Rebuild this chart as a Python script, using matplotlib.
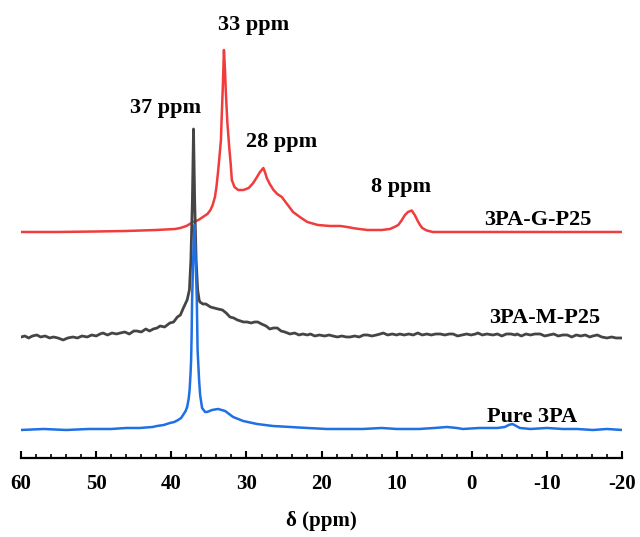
import matplotlib
matplotlib.use('Agg')
import matplotlib.pyplot as plt
from matplotlib.ticker import MultipleLocator

# data: chemical shift (ppm) and intensity (a.u.)
red_ppm = [60, 55, 50, 46, 42, 39.5, 38.8, 38, 37.1, 36.4, 35.8, 35.2, 34.8, 34.5, 34.2, 34.0,
           33.8, 33.6, 33.4, 33.3, 33.15, 33.0, 32.85, 32.75, 32.55, 32.3, 32.1, 31.95, 31.6,
           31.1, 30.4, 29.7, 29.1, 28.6, 28.2, 27.75, 27.5, 27.3, 26.9, 26.4, 25.9, 25.3, 24.5,
           23.8, 22.9, 21.9, 20.5, 18.9, 17.5, 16.6, 15.5, 13.9, 12, 10.9, 10.3, 9.8, 9.4, 8.9,
           8.5, 8.0, 7.6, 7.2, 6.9, 6.6, 6.0, 5.2, 0, -10, -20]
red_int = [0, 0, 0.5, 1, 2, 3, 4, 6, 10, 12, 15, 18, 22, 27, 35, 45,
           59, 75, 92, 115, 145, 182, 160, 140, 110, 85, 68, 52, 45,
           42, 42, 44, 49, 55, 60, 64, 59, 54, 48, 42, 38, 35, 27,
           20, 15, 10, 7, 6, 6, 5, 3.5, 2, 2, 3, 5, 7, 11, 17,
           20, 21.5, 17, 11, 7, 4, 1.5, 0, 0, 0, 0]

gray_ppm = [60.0, 59.5, 59.0, 58.5, 57.9, 57.4, 56.8, 56.2, 55.7, 55.1, 54.4, 53.8, 53.1, 52.5,
            51.9, 51.2, 50.6, 50.0, 49.5, 49.1, 48.5, 47.9, 47.3, 46.8, 46.2, 45.6, 45.0, 44.6,
            44.0, 43.4, 42.9, 42.4, 41.9, 41.5, 40.9, 40.2, 39.7, 39.2, 38.8, 38.4, 37.9, 37.6,
            37.4, 37.2, 37.05, 36.9, 36.7, 36.5, 36.3, 36.2, 35.8, 35.4, 34.8, 34.3, 33.8, 33.2,
            32.7, 32.2, 31.7, 31.2, 30.8, 30.4, 29.9, 29.4, 28.9, 28.5, 28.0, 27.4, 26.9, 26.4,
            25.9, 25.4, 24.9, 24.2, 23.6, 23.0, 22.5, 21.9, 21.5, 20.9, 20.3, 19.6, 19.0, 18.5,
            17.9, 17.3, 16.7, 16.2, 15.6, 15.0, 14.4, 13.9, 13.3, 12.7, 12.2, 11.8, 11.2, 10.6,
            10.0, 9.6, 9.0, 8.4, 7.8, 7.2, 6.6, 6.0, 5.4, 4.8, 4.2, 3.6, 3.0, 2.5, 1.9, 1.3, 0.7,
            0.1, -0.5, -0.8, -1.4, -2.0, -2.8, -3.4, -4.0, -4.6, -5.2, -5.8, -6.0, -6.6, -7.2,
            -7.8, -8.4, -9.1, -9.7, -10.3, -10.9, -11.5, -12.1, -12.7, -13.3, -13.9, -14.5,
            -15.1, -15.7, -16.1, -16.7, -17.3, -18.0, -18.6, -19.2, -20.0]
gray_int = [0, 1, -1, 1, 2, 0, 1, -1, 0, -1, -3, -1, 0, -1,
            1, 0, 2, 1, 3, 4, 2, 4, 3, 4, 5, 3, 6, 6,
            5, 8, 6, 8, 9, 11, 10, 14, 15, 20, 22, 29, 37, 47,
            77, 137, 208, 137, 77, 47, 37, 35, 33, 33, 30, 29, 28, 27,
            24, 20, 19, 17, 16, 15, 15, 14, 15, 15, 13, 11, 8, 9,
            9, 6, 5, 3, 4, 2, 3, 2, 3, 1, 2, 1, 2, 1,
            0, 1, 0, 0, 1, 0, 2, 2, 1, 2, 3, 4, 2, 3,
            2, 3, 2, 3, 2, 4, 2, 3, 2, 3, 3, 2, 3, 3, 1, 2, 3,
            2, 3, 4, 2, 3, 2, 3, 1, 3, 3, 2, 3, 1, 3,
            2, 3, 3, 1, 2, 3, 1, 2, 2, 0, 2, 1,
            2, 0, 1, 2, 0, -1, 0, -1, -1]

blue_ppm = [60, 57, 54, 51, 48, 46, 44.2, 42.5, 41.9, 41.0, 40.2, 39.6, 39.1, 38.7, 38.44, 38.1,
            37.9, 37.7, 37.57, 37.45, 37.37, 37.3, 37.24, 37.1, 36.93, 36.77, 36.61, 36.51,
            36.31, 36.17, 35.91, 35.51, 35.24, 34.58, 33.78, 32.85, 31.78, 30.45, 28.6, 26.5,
            24.2, 21.9, 19.3, 17, 14.5, 12, 10, 7, 5, 3.3, 2, 1.2, -1, -3.4, -4.4, -4.9, -5.4,
            -5.9, -6.4, -7.8, -10, -12.1, -14, -16.1, -18, -20]
blue_int = [-1, 0, -1, 0, 0, 1, 1, 2, 3, 4, 6, 7, 9, 11, 14, 18,
            22, 30, 39, 55, 69, 95, 129, 169, 204, 169, 129, 79,
            49, 34, 21, 17, 17, 19, 20, 18, 12, 8, 5, 3,
            2, 1, 0, 0, 0, 1, 0, 0, 1, 2, 1, 0, 1, 1, 2, 4, 5,
            3, 1, 0, 1, 0, 0, -1, 0, -1]

offsets = {'blue': 0, 'gray': 92, 'red': 197}
ticks = [60, 50, 40, 30, 20, 10, 0, -10, -20]

serif = 'Liberation Serif'
plt.rcParams['font.family'] = serif
plt.rcParams['font.weight'] = 'bold'

fig = plt.figure(figsize=(6.4, 5.37), dpi=100)
ax = fig.add_axes([0.033, 0.1477, 0.939, 0.843])

ax.plot(red_ppm, [v + offsets['red'] for v in red_int], color='#f03c3c', lw=1.8, zorder=2)
ax.plot(gray_ppm, [v + offsets['gray'] for v in gray_int], color='#454545', lw=2.0, zorder=3)
ax.plot(blue_ppm, [v + offsets['blue'] for v in blue_int], color='#1f6fe5', lw=1.8, zorder=4)

ax.set_xlim(60, -20)
ax.set_ylim(-28.7, 424)
ax.set_xticks(ticks)
ax.set_xticklabels([str(t) for t in ticks])
ax.xaxis.set_minor_locator(MultipleLocator(2))
ax.tick_params(axis='x', which='major', direction='in', length=5, width=1.5, labelsize=15, pad=12)
ax.tick_params(axis='x', which='minor', direction='in', length=3, width=1.2)
for s in ['top', 'left', 'right']:
    ax.spines[s].set_visible(False)
ax.spines['bottom'].set_linewidth(1.6)
ax.set_yticks([])
ax.set_xlabel('δ (ppm)', fontsize=15, fontweight='bold', labelpad=12)

tf = dict(fontsize=16, fontweight='bold', ha='center', va='baseline')
ax.text(29.1, 399, '33 ppm', **tf)
ax.text(40.8, 316, '37 ppm', **tf)
ax.text(25.3, 282, '28 ppm', **tf)
ax.text(9.4, 237, '8 ppm', **tf)
ax.text(-8.8, 204, '3PA-G-P25', **tf)
ax.text(-9.75, 106, '3PA-M-P25', **tf)
ax.text(-8.0, 7, 'Pure 3PA', **tf)

fig.savefig('out.png', dpi=100)
